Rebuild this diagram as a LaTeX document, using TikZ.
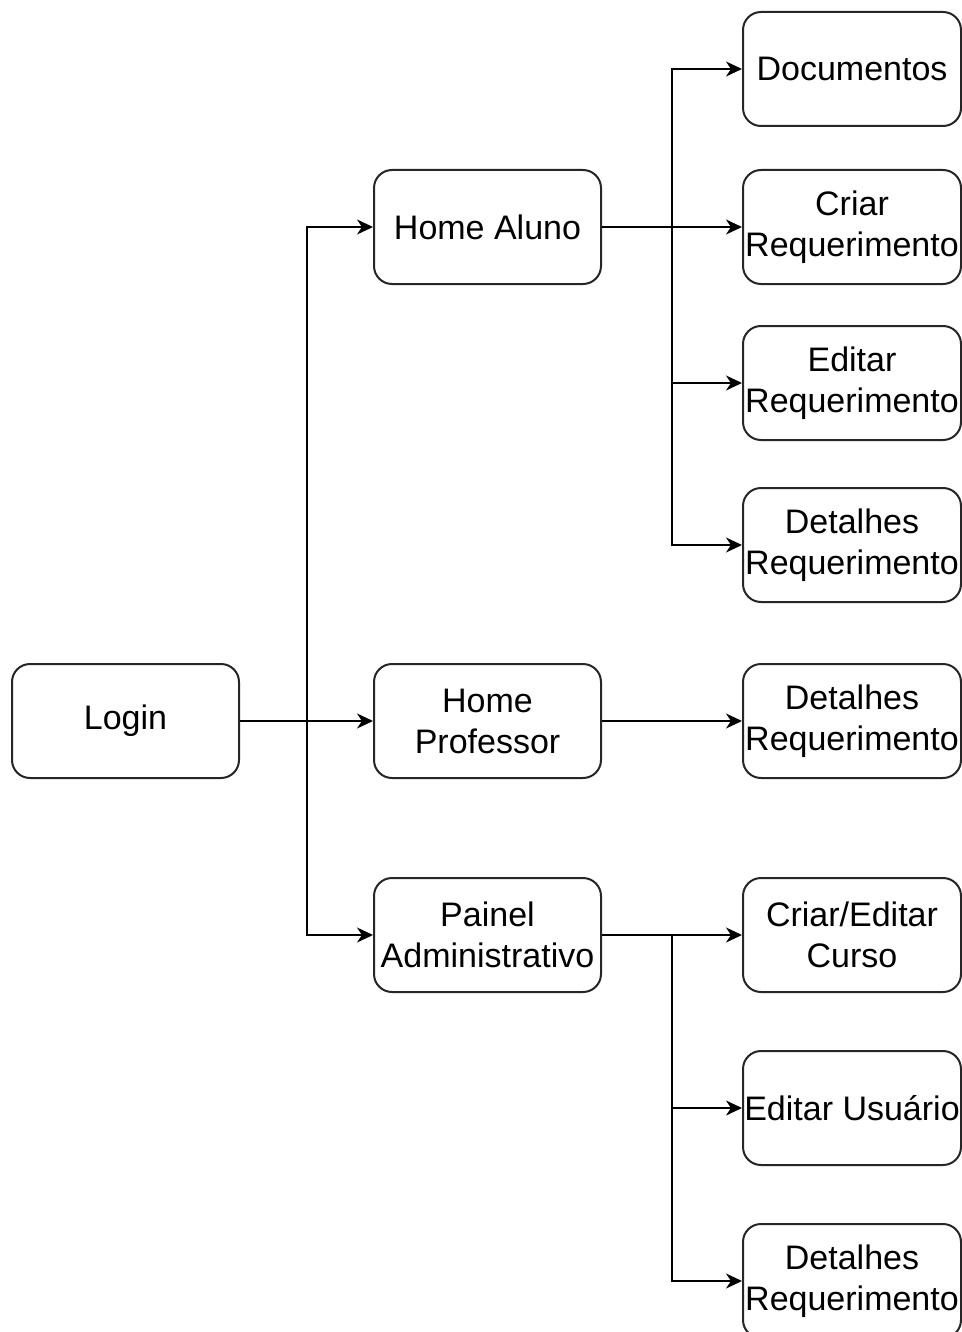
\documentclass[tikz,border=0pt]{standalone}
\usepackage{fontspec}
\setmainfont{Liberation Sans}
\usetikzlibrary{arrows.meta}

\tikzset{
  screen/.style={draw=black!85, line width=1pt, rounded corners=9pt,
    minimum width=113.5pt, minimum height=57pt, inner sep=0pt,
    align=center, font=\fontsize{17pt}{20.5pt}\selectfont},
  leaf/.style={screen, minimum width=109pt},
  link/.style={line width=0.9pt, -{Stealth[length=8pt,width=7.5pt,inset=2.5pt]}}
}

\begin{document}
\begin{tikzpicture}[x=0.5pt, y=-0.5pt]
  \useasboundingbox (0,0) rectangle (962,1332);
  \clip (0,0) rectangle (962,1332);

  % first and second levels
  \node[screen] (login) at (125.5,721) {Login};
  \node[screen] (aluno) at (487.5,227) {Home Aluno};
  \node[screen] (prof)  at (487.5,721) {Home\\Professor};
  \node[screen] (admin) at (487.5,935) {Painel\\Administrativo};

  % third level
  \node[leaf] (docs)   at (852,69)   {Documentos};
  \node[leaf] (criar)  at (852,227)  {Criar\\Requerimento};
  \node[leaf] (editar) at (852,383)  {Editar\\Requerimento};
  \node[leaf] (detA)   at (852,545)  {Detalhes\\Requerimento};
  \node[leaf] (detP)   at (852,721)  {Detalhes\\Requerimento};
  \node[leaf] (curso)  at (852,935)  {Criar/Editar\\Curso};
  \node[leaf] (usuario) at (852,1108) {Editar Usuário};
  \node[leaf] (detAdm) at (852,1281) {Detalhes\\Requerimento};

  % connectors from Login
  \draw[link] (login.east) -- ++(67,0) |- (aluno.west);
  \draw[link] (login.east) -- (prof.west);
  \draw[link] (login.east) -- ++(67,0) |- (admin.west);

  % connectors from Home Aluno
  \draw[link] (aluno.east) -- ++(70,0) |- (docs.west);
  \draw[link] (aluno.east) -- (criar.west);
  \draw[link] (aluno.east) -- ++(70,0) |- (editar.west);
  \draw[link] (aluno.east) -- ++(70,0) |- (detA.west);

  % connector from Home Professor
  \draw[link] (prof.east) -- (detP.west);

  % connectors from Painel Administrativo
  \draw[link] (admin.east) -- (curso.west);
  \draw[link] (admin.east) -- ++(70,0) |- (usuario.west);
  \draw[link] (admin.east) -- ++(70,0) |- (detAdm.west);
\end{tikzpicture}
\end{document}
